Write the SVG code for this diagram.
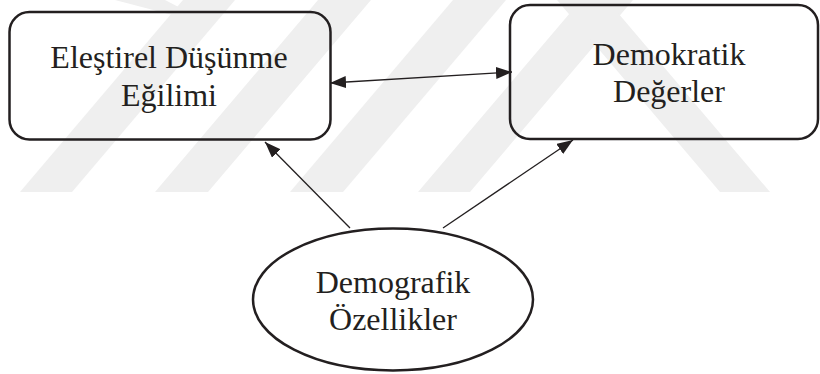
<svg xmlns="http://www.w3.org/2000/svg" width="820" height="374" viewBox="0 0 820 374">
  <style>
    .band{fill:#efefef}
    .node{fill:none;stroke:#231f20;stroke-width:2.5}
    .label{font-family:'Liberation Serif','Times New Roman','DejaVu Serif',serif;font-size:32px;fill:#231f20;text-anchor:middle}
    .link{stroke:#231f20;stroke-width:1.3;fill:none}
  </style>
  <defs>
    <marker id="head" viewBox="0 0 16 12" refX="16" refY="6" markerWidth="16" markerHeight="12" markerUnits="userSpaceOnUse" orient="auto-start-reverse">
      <path d="M0,0 L16,6 L0,12 Z" fill="#231f20"/>
    </marker>
  </defs>

  <!-- faint background stripes -->
  <g id="backdrop">
    <polygon class="band" points="20,192 72,192 235,0 183,0"/>
    <polygon class="band" points="155,192 208,192 371,0 318,0"/>
    <polygon class="band" points="290,192 343,192 506,0 453,0"/>
    <polygon class="band" points="418,192 470,192 633,0 581,0"/>
    <polygon class="band" points="720,192 770,192 607,0 557,0"/>
    <polygon class="band" points="115,0 165,0 198,17 180,17"/>
  </g>

  <g id="connectors">
    <line class="link" x1="330" y1="83" x2="512" y2="72" marker-start="url(#head)" marker-end="url(#head)"/>
    <line class="link" x1="350" y1="228" x2="265" y2="142" marker-end="url(#head)"/>
    <line class="link" x1="443" y1="228" x2="573" y2="140" marker-end="url(#head)"/>
  </g>

  <g id="elestirel-dusunme">
    <rect class="node" x="9.5" y="12" width="321" height="127.5" rx="20"/>
    <text class="label" font-family="Liberation Serif, serif" x="169" y="68">Eleştirel Düşünme</text>
    <text class="label" font-family="Liberation Serif, serif" x="169" y="106">Eğilimi</text>
  </g>

  <g id="demokratik-degerler">
    <rect class="node" x="510" y="5" width="308" height="134" rx="20"/>
    <text class="label" font-family="Liberation Serif, serif" x="669" y="65">Demokratik</text>
    <text class="label" font-family="Liberation Serif, serif" x="669" y="102">Değerler</text>
  </g>

  <g id="demografik-ozellikler">
    <ellipse class="node" cx="393" cy="299.5" rx="140" ry="71" stroke-width="2.2"/>
    <text class="label" font-family="Liberation Serif, serif" x="393" y="293">Demografik</text>
    <text class="label" font-family="Liberation Serif, serif" x="393" y="330">Özellikler</text>
  </g>
</svg>
